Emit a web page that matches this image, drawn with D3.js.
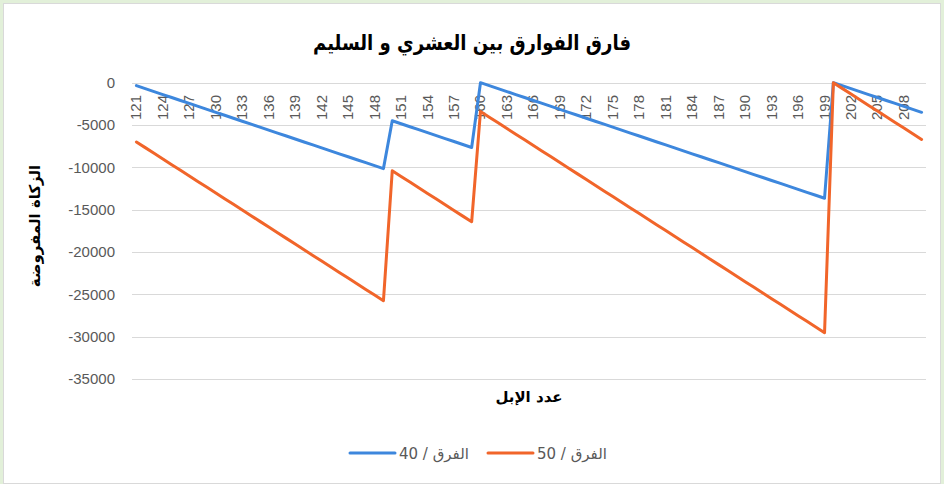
<!DOCTYPE html>
<html>
<head>
<meta charset="utf-8">
<script src="https://cdn.jsdelivr.net/npm/d3@7"></script>
<style>
  body { margin: 0; background: #e2f0d9; }
  svg { display: block; }
</style>
</head>
<body>
<div id="chart"></div>
<script>
const fig_width = 944
const fig_height = 484

// number of camels (x categories)
const camels = d3.range(121, 211)

// الفرق / 40
const diff40 = [
  -350, -700, -1050, -1400, -1750, -2100, -2450, -2800, -3150, -3500,
  -3850, -4200, -4550, -4900, -5250, -5600, -5950, -6300, -6650, -7000,
  -7350, -7700, -8050, -8400, -8750, -9100, -9450, -9800, -10150,
  -4500, -4850, -5200, -5550, -5900, -6250, -6600, -6950, -7300, -7650,
  0, -350, -700, -1050, -1400, -1750, -2100, -2450, -2800, -3150,
  -3500, -3850, -4200, -4550, -4900, -5250, -5600, -5950, -6300, -6650,
  -7000, -7350, -7700, -8050, -8400, -8750, -9100, -9450, -9800, -10150,
  -10500, -10850, -11200, -11550, -11900, -12250, -12600, -12950, -13300, -13650,
  0, -350, -700, -1050, -1400, -1750, -2100, -2450, -2800, -3150, -3500
]

// الفرق / 50
const diff50 = [
  -7000, -7670, -8340, -9010, -9680, -10350, -11020, -11690, -12360, -13030,
  -13700, -14370, -15040, -15710, -16380, -17050, -17720, -18390, -19060, -19730,
  -20400, -21070, -21740, -22410, -23080, -23750, -24420, -25090, -25760,
  -10400, -11070, -11740, -12410, -13080, -13750, -14420, -15090, -15760, -16430,
  -3400, -4070, -4740, -5410, -6080, -6750, -7420, -8090, -8760, -9430,
  -10100, -10770, -11440, -12110, -12780, -13450, -14120, -14790, -15460, -16130,
  -16800, -17470, -18140, -18810, -19480, -20150, -20820, -21490, -22160, -22830,
  -23500, -24170, -24840, -25510, -26180, -26850, -27520, -28190, -28860, -29530,
  0, -670, -1340, -2010, -2680, -3350, -4020, -4690, -5360, -6030, -6700
]

const y_ticks = [0, -5000, -10000, -15000, -20000, -25000, -30000, -35000]
const x_tick_labels = camels.filter((c, i) => i % 3 === 0)

const series = [
  {name: 'الفرق / 40', values: diff40, colour: '#3d87dd'},
  {name: 'الفرق / 50', values: diff50, colour: '#f1652a'}
]

const arabic_font = "'DejaVu Sans', sans-serif"
const num_font = "'Liberation Sans', Arial, sans-serif"

let fig = d3.select('#chart')
  .append('svg')
  .attr('width', fig_width)
  .attr('height', fig_height)

// chart frame
fig.append('rect')
  .attr('x', 3.5).attr('y', 3.5)
  .attr('width', fig_width - 7).attr('height', fig_height - 4)
  .attr('fill', '#fff')
  .attr('stroke', '#d9d9d9')

let xScale = d3.scalePoint()
  .domain(camels)
  .range([132, 926])
  .padding(0.5)

let yScale = d3.scaleLinear()
  .domain([-35000, 0])
  .range([379, 82.7])

// gridlines
fig.append('g')
  .selectAll('line')
  .data(y_ticks)
  .join('line')
  .attr('x1', 132).attr('x2', 926)
  .attr('y1', d => Math.round(yScale(d)) + 0.5)
  .attr('y2', d => Math.round(yScale(d)) + 0.5)
  .attr('stroke', '#d9d9d9')
  .attr('stroke-width', 1)

// y axis labels
let yAxis = fig.append('g')
  .attr('transform', 'translate(115,0)')
  .call(d3.axisLeft(yScale).tickValues(y_ticks).tickSize(0).tickPadding(0).tickFormat(d => String(d)))
yAxis.select('.domain').remove()
yAxis.selectAll('text')
  .attr('font-family', num_font)
  .attr('font-size', 15)
  .attr('fill', '#595959')

// x axis labels, rotated, hanging under the zero line
fig.append('g')
  .selectAll('text')
  .data(x_tick_labels)
  .join('text')
  .attr('transform', d => `translate(${xScale(d) + 5},95) rotate(-90)`)
  .attr('text-anchor', 'end')
  .attr('font-family', num_font)
  .attr('font-size', 15)
  .attr('fill', '#595959')
  .text(d => d)

// lines
let line = d3.line()
  .x((d, i) => xScale(camels[i]))
  .y(d => yScale(d))

fig.append('g')
  .selectAll('path')
  .data(series)
  .join('path')
  .attr('d', s => line(s.values))
  .attr('fill', 'none')
  .attr('stroke', s => s.colour)
  .attr('stroke-width', 3)
  .attr('stroke-linejoin', 'round')
  .attr('stroke-linecap', 'round')

// titles
fig.append('text')
  .attr('x', 472).attr('y', 50)
  .attr('text-anchor', 'middle')
  .attr('font-family', arabic_font)
  .attr('font-weight', 'bold')
  .attr('font-size', 21)
  .attr('textLength', 318)
  .attr('lengthAdjust', 'spacingAndGlyphs')
  .attr('fill', '#000')
  .text('فارق الفوارق بين العشري و السليم')

fig.append('text')
  .attr('x', 529).attr('y', 402)
  .attr('text-anchor', 'middle')
  .attr('font-family', arabic_font)
  .attr('font-weight', 'bold')
  .attr('font-size', 15)
  .text('عدد الإبل')

fig.append('text')
  .attr('transform', 'translate(40,226) rotate(-90)')
  .attr('text-anchor', 'middle')
  .attr('font-family', arabic_font)
  .attr('font-weight', 'bold')
  .attr('font-size', 15)
  .text('الزكاة المفروضة')

// legend
let legend = fig.append('g')
  .selectAll('g')
  .data(series)
  .join('g')
  .attr('transform', (d, i) => `translate(${350 + i * 138},453)`)

legend.append('line')
  .attr('x1', 0).attr('x2', 45)
  .attr('stroke', d => d.colour)
  .attr('stroke-width', 3)
  .attr('stroke-linecap', 'round')

legend.append('text')
  .attr('x', 49).attr('y', 6)
  .attr('font-family', arabic_font)
  .attr('font-size', 15)
  .attr('fill', '#595959')
  .attr('direction', 'rtl')
  .attr('text-anchor', 'end')
  .text(d => d.name)
</script>
</body>
</html>
